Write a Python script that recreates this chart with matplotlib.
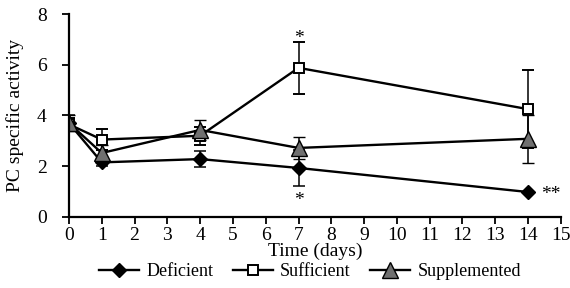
import matplotlib
matplotlib.use("Agg")
import matplotlib.pyplot as plt
from matplotlib.lines import Line2D

plt.rcParams['font.family'] = ['Liberation Serif', 'DejaVu Serif']

days = [0, 1, 4, 7, 14]

deficient = [3.7, 2.15, 2.28, 1.93, 0.98]
deficient_err = [0.3, 0.15, 0.3, 0.7, 0.0]

sufficient = [3.65, 3.05, 3.2, 5.88, 4.25]
sufficient_err = [0.25, 0.4, 0.35, 1.03, 1.55]

supplemented = [3.7, 2.52, 3.43, 2.72, 3.08]
supplemented_err = [0.3, 0.3, 0.4, 0.45, 0.95]

x_ticks = list(range(0, 16))
y_ticks = [0, 2, 4, 6, 8]

fig = plt.figure(figsize=(5.7, 2.88), dpi=100)
ax = fig.add_axes([0.121, 0.247, 0.863, 0.704])

kw = dict(color='black', lw=1.7, capsize=4, elinewidth=1.1, capthick=1.1)
styles = [
    dict(marker='D', ms=7.5, mfc='black', mec='black'),
    dict(marker='s', ms=7.5, mfc='white', mec='black', mew=1.4),
    dict(marker='^', ms=11, mfc='#707070', mec='black', mew=1.0),
]
series = [(deficient, deficient_err, 'Deficient'),
          (sufficient, sufficient_err, 'Sufficient'),
          (supplemented, supplemented_err, 'Supplemented')]

handles = []
for (vals, errs, name), st in zip(series, styles):
    ax.errorbar(days, vals, yerr=errs, **st, **kw)
    handles.append(Line2D([], [], color='black', lw=1.7, label=name, **st))

# significance marks
ax.text(7, 7.05, '*', ha='center', va='center', fontsize=14)
ax.text(7, 0.65, '*', ha='center', va='center', fontsize=14)
ax.text(14.4, 0.9, '**', ha='left', va='center', fontsize=14)

ax.set_xlim(0, 15)
ax.set_ylim(0, 8)
ax.set_xticks(x_ticks)
ax.set_yticks(y_ticks)
ax.tick_params(axis='both', direction='out', length=5, width=1.3, labelsize=14)
ax.tick_params(axis='x', pad=2)
ax.tick_params(axis='y', pad=11)
for s in ['top', 'right']:
    ax.spines[s].set_visible(False)
for s in ['left', 'bottom']:
    ax.spines[s].set_linewidth(1.6)

ax.set_xlabel('Time (days)', fontsize=14, labelpad=-1)
ax.set_ylabel('PC specific activity', fontsize=14, labelpad=9)

ax.legend(handles=handles, loc='center', bbox_to_anchor=(0.49, -0.27), ncol=3,
          frameon=False, fontsize=13, handlelength=2.2, columnspacing=1.1,
          handletextpad=0.4, borderaxespad=0, borderpad=0)

fig.savefig('out.png', dpi=100)
